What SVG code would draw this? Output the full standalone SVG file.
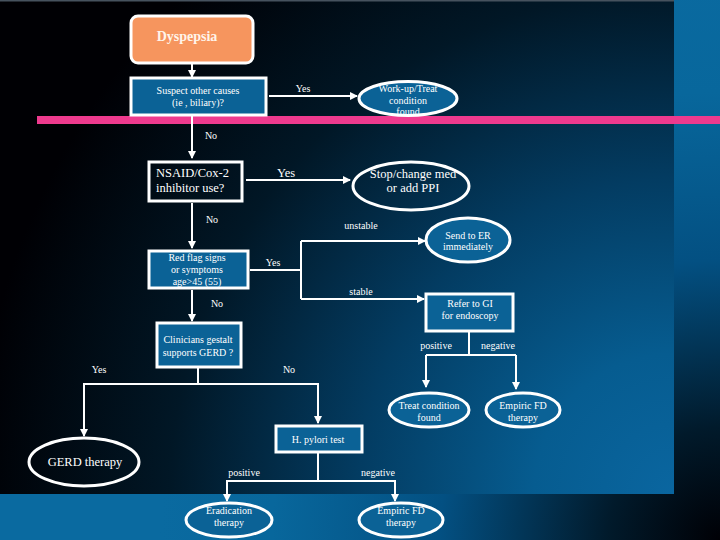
<svg xmlns="http://www.w3.org/2000/svg" width="720" height="540" viewBox="0 0 720 540">
<defs>
<radialGradient id="outer" gradientUnits="userSpaceOnUse" cx="720" cy="540" r="560">
<stop offset="0" stop-color="#000005"/>
<stop offset="0.2" stop-color="#011a2b"/>
<stop offset="0.5" stop-color="#035082"/>
<stop offset="0.8" stop-color="#08679c"/>
<stop offset="1" stop-color="#0a6aa0"/>
</radialGradient>
<radialGradient id="panel" gradientUnits="userSpaceOnUse" cx="674" cy="494" r="700">
<stop offset="0" stop-color="#0a66a0"/>
<stop offset="0.2" stop-color="#065c90"/>
<stop offset="0.45" stop-color="#033c62"/>
<stop offset="0.72" stop-color="#011726"/>
<stop offset="1" stop-color="#000004"/>
</radialGradient>
<marker id="ah" viewBox="0 0 8 8" refX="7" refY="4" markerWidth="4" markerHeight="4" orient="auto" markerUnits="strokeWidth">
<path d="M0,0 L8,4 L0,8 z" fill="#ffffff"/>
</marker>
<style>
.bx{fill:#0b6296;stroke:#ffffff;stroke-width:3}
.dk{fill:none;stroke:#ffffff;stroke-width:3}
.ln{fill:none;stroke:#ffffff;stroke-width:2}
.ar{fill:none;stroke:#ffffff;stroke-width:2;marker-end:url(#ah)}
text{font-family:'Liberation Serif','DejaVu Serif','Noto Serif',serif;fill:#ffffff;text-anchor:middle}
.s{font-size:10px}
.m{font-size:12.5px}
.l{font-size:10px}
</style>
</defs>
<rect x="0" y="0" width="720" height="540" fill="url(#outer)"/>
<rect x="0" y="0" width="674" height="494" fill="url(#panel)"/>
<line x1="0" y1="0.8" x2="674" y2="0.8" stroke="#46525e" stroke-width="1.6"/>
<rect x="37" y="116" width="683" height="8" fill="#ee3a8e"/>

<g id="connectors">
<line class="ar" x1="192" y1="63" x2="192" y2="77"/>
<line class="ar" x1="269" y1="96" x2="357" y2="96"/>
<line class="ar" x1="192" y1="116" x2="192" y2="158"/>
<line class="ar" x1="246" y1="180" x2="350" y2="180"/>
<line class="ar" x1="192" y1="203" x2="192" y2="248"/>
<polyline class="ln" points="250,270 301,270"/>
<line class="ln" x1="301" y1="241" x2="301" y2="299"/>
<line class="ar" x1="301" y1="241" x2="425" y2="241"/>
<line class="ar" x1="301" y1="299" x2="424" y2="299"/>
<line class="ar" x1="192" y1="290" x2="192" y2="321"/>
<line class="ln" x1="469" y1="332" x2="469" y2="355"/>
<polyline class="ar" points="426,355 426,387"/>
<polyline class="ln" points="426,355 516,355"/>
<polyline class="ar" points="516,355 516,389"/>
<line class="ln" x1="198" y1="368" x2="198" y2="384"/>
<polyline class="ar" points="198,384 84,384 84,436"/>
<polyline class="ar" points="198,384 318,384 318,423"/>
<line class="ln" x1="318" y1="453" x2="318" y2="481"/>
<polyline class="ar" points="318,481 227,481 227,501"/>
<polyline class="ar" points="318,481 395,481 395,501"/>
</g>
<g id="edge-labels">
<text class="l" x="303" y="92">Yes</text>
<text class="l" x="211" y="139">No</text>
<text class="m" x="286" y="177">Yes</text>
<text class="l" x="212" y="223">No</text>
<text class="l" x="273" y="266">Yes</text>
<text class="l" x="361" y="229">unstable</text>
<text class="l" x="361" y="295">stable</text>
<text class="l" x="217" y="307">No</text>
<text class="l" x="436" y="349">positive</text>
<text class="l" x="498" y="349">negative</text>
<text class="l" x="99" y="373">Yes</text>
<text class="l" x="289" y="373">No</text>
<text class="l" x="244" y="476">positive</text>
<text class="l" x="378" y="476">negative</text>
</g>

<g id="dyspepsia">
<rect x="131" y="16" width="122" height="47" rx="7" fill="#f6955e" stroke="#ffffff" stroke-width="3"/>
<text x="187" y="41" style="font-size:14px;font-weight:bold;fill:#fff4ea">Dyspepsia</text>
</g>
<g id="suspect">
<rect class="bx" x="131" y="78" width="135" height="37"/>
<text class="s" x="198" y="94">Suspect other causes</text>
<text class="s" x="198" y="106">(ie , biliary)?</text>
</g>
<g id="workup">
<ellipse class="bx" cx="408" cy="98.5" rx="49" ry="17"/>
<text class="s" x="408" y="92">Work-up/Treat</text>
<text class="s" x="408" y="104">condition</text>
<text class="s" x="408" y="115">found</text>
</g>
<g id="nsaid">
<rect class="dk" x="149" y="162" width="93" height="39"/>
<text class="m" x="156" y="177" style="text-anchor:start">NSAID/Cox-2</text>
<text class="m" x="156" y="192" style="text-anchor:start">inhibitor use?</text>
</g>
<g id="stopmed">
<ellipse class="dk" cx="411" cy="186" rx="58" ry="24"/>
<text class="m" x="413" y="178">Stop/change med</text>
<text class="m" x="413" y="192">or add PPI</text>
</g>
<g id="redflag">
<rect class="bx" x="149" y="251" width="99" height="37"/>
<text class="s" x="197" y="261">Red flag signs</text>
<text class="s" x="197" y="273">or symptoms</text>
<text class="s" x="197" y="285">age&gt;45 (55)</text>
</g>
<g id="sendER">
<ellipse class="bx" cx="468" cy="240" rx="42" ry="22"/>
<text class="s" x="468" y="239">Send to ER</text>
<text class="s" x="468" y="250">immediately</text>
</g>
<g id="referGI">
<rect class="bx" x="426" y="294" width="87" height="37"/>
<text class="s" x="470" y="307">Refer to GI</text>
<text class="s" x="470" y="319">for endoscopy</text>
</g>
<g id="treatfound">
<ellipse class="bx" cx="429" cy="410" rx="40" ry="17"/>
<text class="s" x="429" y="409">Treat condition</text>
<text class="s" x="429" y="421">found</text>
</g>
<g id="empiric1">
<ellipse class="bx" cx="523" cy="410" rx="37" ry="17"/>
<text class="s" x="523" y="409">Empiric FD</text>
<text class="s" x="523" y="421">therapy</text>
</g>
<g id="clinicians">
<rect class="bx" x="157" y="323" width="84" height="44"/>
<text class="s" x="198" y="343">Clinicians gestalt</text>
<text class="s" x="198" y="356">supports GERD ?</text>
</g>
<g id="gerd">
<ellipse class="dk" cx="84" cy="462" rx="55" ry="24"/>
<text class="m" x="85" y="466">GERD therapy</text>
</g>
<g id="hpylori">
<rect class="bx" x="276" y="426" width="86" height="26"/>
<text class="s" x="318" y="443">H. pylori test</text>
</g>
<g id="eradication">
<ellipse class="bx" cx="229" cy="520" rx="43" ry="17"/>
<text class="s" x="229" y="514">Eradication</text>
<text class="s" x="229" y="526">therapy</text>
</g>
<g id="empiric2">
<ellipse class="bx" cx="401" cy="520" rx="42" ry="17"/>
<text class="s" x="401" y="514">Empiric FD</text>
<text class="s" x="401" y="526">therapy</text>
</g>
</svg>
